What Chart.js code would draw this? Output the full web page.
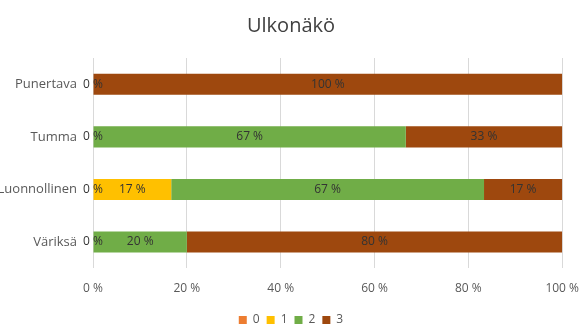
<!DOCTYPE html>
<html>
<head>
<meta charset="utf-8">
<script src="https://cdn.jsdelivr.net/npm/chart.js@4"></script>
<style>
  html, body { margin: 0; padding: 0; background: #fff; }
  #wrap { width: 582px; height: 325px; }
</style>
</head>
<body>
<div id="wrap"><canvas id="ulkonakoChart"></canvas></div>
<script>
// Answer shares per appearance group (percent of respondents)
const categories = ['Punertava', 'Tumma', 'Luonnollinen', 'Väriksä'];
const seriesNames = ['0', '1', '2', '3'];
const series0 = [0, 0, 0, 0];
const series1 = [0, 0, 16.67, 0];
const series2 = [0, 66.67, 66.67, 20];
const series3 = [100, 33.33, 16.67, 80];
const xTicks = [0, 20, 40, 60, 80, 100];
const seriesColors = ['#ED7D31', '#FFC000', '#70AD47', '#9E480E'];

const FONT = '"Open Sans", Lato, sans-serif';

// Writes the percentage in the middle of every segment
const barLabels = {
    id: 'barLabels',
    afterDatasetsDraw(chart) {
        const ctx = chart.ctx;
        ctx.save();
        ctx.font = '12px ' + FONT;
        ctx.fillStyle = '#333333';
        ctx.textAlign = 'center';
        ctx.textBaseline = 'middle';
        chart.data.datasets.forEach((ds, i) => {
            const meta = chart.getDatasetMeta(i);
            meta.data.forEach((bar, j) => {
                const v = ds.data[j];
                // empty segments all sit on the bar start, write that one only once
                if (v === 0 && i > 0) return;
                const p = bar.getCenterPoint();
                ctx.fillText(Math.round(v) + ' %', p.x, p.y);
            });
        });
        ctx.restore();
    }
};

const allSeries = [series0, series1, series2, series3];
const datasets = allSeries.map((data, i) => ({
    label: seriesNames[i],
    data: data,
    backgroundColor: seriesColors[i],
    borderWidth: 0,
    categoryPercentage: 0.8,
    barPercentage: 0.5
}));

const ctx = document.getElementById('ulkonakoChart').getContext('2d');
new Chart(ctx, {
    type: 'bar',
    data: { labels: categories, datasets: datasets },
    plugins: [barLabels],
    options: {
        indexAxis: 'y',
        responsive: true,
        maintainAspectRatio: false,
        animation: false,
        layout: { padding: { left: 0, right: 0, top: 0, bottom: -11 } },
        plugins: {
            title: {
                display: true,
                text: 'Ulkonäkö',
                color: '#404040',
                font: { family: FONT, size: 20, weight: 'normal' },
                padding: { top: 14, bottom: 20 }
            },
            legend: {
                position: 'bottom',
                labels: {
                    color: '#595959',
                    font: { family: FONT, size: 12 },
                    boxWidth: 8,
                    boxHeight: 8,
                    padding: 7
                }
            },
            tooltip: { enabled: false }
        },
        scales: {
            x: {
                stacked: true,
                min: 0,
                max: 100,
                afterBuildTicks: axis => { axis.ticks = xTicks.map(v => ({ value: v })); },
                afterFit: axis => { axis.height = 38.7; },
                ticks: {
                    color: '#595959',
                    font: { family: FONT, size: 12 },
                    padding: 3,
                    callback: v => v + ' %'
                },
                grid: { color: '#D9D9D9', tickLength: 10, tickColor: 'rgba(0,0,0,0)' },
                border: { display: false }
            },
            y: {
                stacked: true,
                afterFit: axis => { axis.width = 93; },
                ticks: {
                    color: '#595959',
                    font: { family: FONT, size: 13 },
                    padding: 8
                },
                grid: { display: false },
                border: { display: false }
            }
        }
    }
});
</script>
</body>
</html>
